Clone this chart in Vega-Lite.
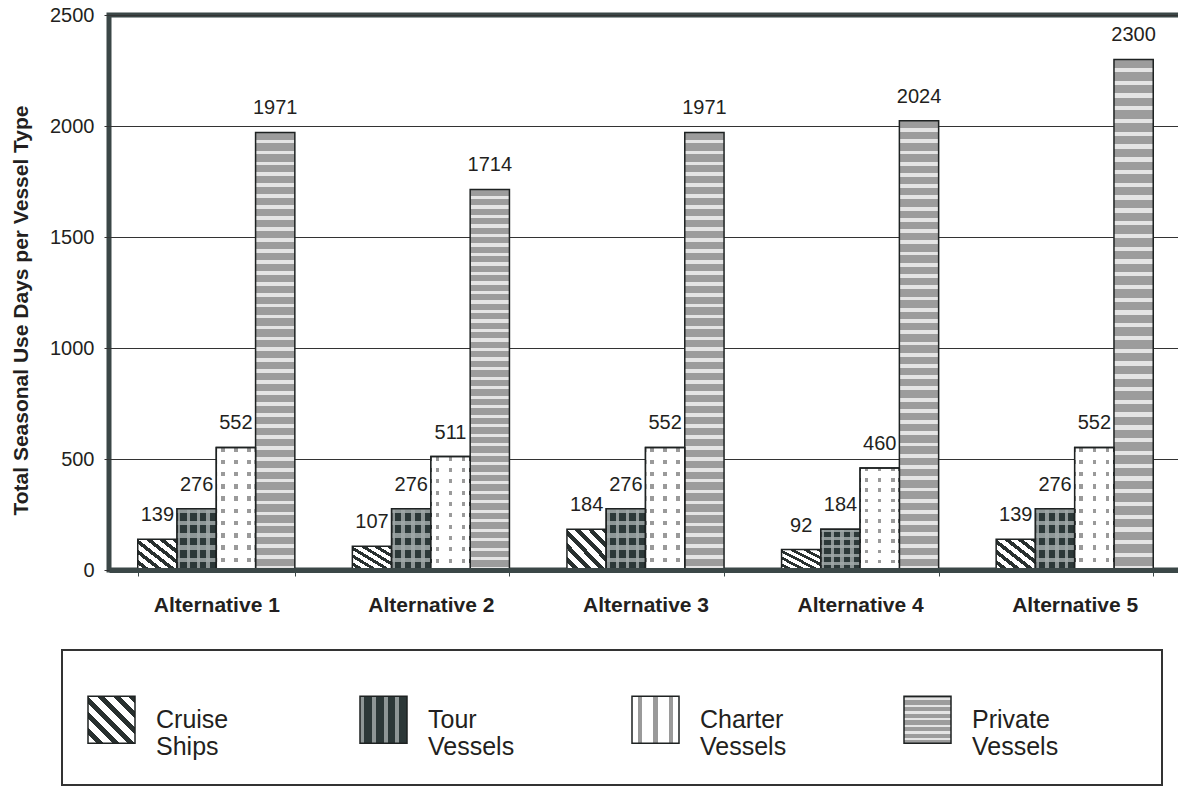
{
  "$schema": "https://vega.github.io/schema/vega-lite/v6.json",
  "width": 1073,
  "height": 555,
  "autosize": {"type": "none"},
  "padding": {"left": 109, "top": 15, "right": 0, "bottom": 222},
  "background": "#ffffff",
  "config": {
    "font": "Liberation Sans, Arial, Helvetica, sans-serif",
    "view": {"stroke": "#3b4747", "strokeWidth": 5},
    "legend": {"strokeWidth": 2},
    "bar": {"stroke": "#1e2222", "strokeWidth": 1.5}
  },
  "data": {
    "values": [
      {"alt": "Alternative 1", "type": "Cruise Ships", "value": 139},
      {"alt": "Alternative 1", "type": "Tour Vessels", "value": 276},
      {"alt": "Alternative 1", "type": "Charter Vessels", "value": 552},
      {"alt": "Alternative 1", "type": "Private Vessels", "value": 1971},
      {"alt": "Alternative 2", "type": "Cruise Ships", "value": 107},
      {"alt": "Alternative 2", "type": "Tour Vessels", "value": 276},
      {"alt": "Alternative 2", "type": "Charter Vessels", "value": 511},
      {"alt": "Alternative 2", "type": "Private Vessels", "value": 1714},
      {"alt": "Alternative 3", "type": "Cruise Ships", "value": 184},
      {"alt": "Alternative 3", "type": "Tour Vessels", "value": 276},
      {"alt": "Alternative 3", "type": "Charter Vessels", "value": 552},
      {"alt": "Alternative 3", "type": "Private Vessels", "value": 1971},
      {"alt": "Alternative 4", "type": "Cruise Ships", "value": 92},
      {"alt": "Alternative 4", "type": "Tour Vessels", "value": 184},
      {"alt": "Alternative 4", "type": "Charter Vessels", "value": 460},
      {"alt": "Alternative 4", "type": "Private Vessels", "value": 2024},
      {"alt": "Alternative 5", "type": "Cruise Ships", "value": 139},
      {"alt": "Alternative 5", "type": "Tour Vessels", "value": 276},
      {"alt": "Alternative 5", "type": "Charter Vessels", "value": 552},
      {"alt": "Alternative 5", "type": "Private Vessels", "value": 2300}
    ]
  },
  "encoding": {
    "x": {
      "field": "alt",
      "type": "nominal",
      "title": null,
      "scale": {"paddingInner": 0.268, "paddingOuter": 0.134},
      "axis": {
        "labelAngle": 0,
        "labelFontSize": 21,
        "labelFontWeight": "bold",
        "labelColor": "#231f20",
        "labelPadding": 18,
        "tickBand": "extent",
        "tickSize": 6,
        "tickColor": "#3b4747",
        "domainColor": "#3b4747",
        "domainWidth": 5,
        "zindex": 1
      }
    },
    "xOffset": {
      "field": "type",
      "type": "nominal",
      "scale": {
        "domain": ["Cruise Ships", "Tour Vessels", "Charter Vessels", "Private Vessels"],
        "paddingInner": 0,
        "paddingOuter": 0
      }
    },
    "y": {
      "field": "value",
      "type": "quantitative",
      "title": "Total Seasonal Use Days per Vessel Type",
      "scale": {"domain": [0, 2500], "nice": false},
      "axis": {
        "values": [0, 500, 1000, 1500, 2000, 2500],
        "format": "d",
        "grid": true,
        "gridColor": "#333333",
        "gridWidth": 1,
        "domain": false,
        "tickSize": 5,
        "tickColor": "#333333",
        "labelFontSize": 20,
        "labelColor": "#231f20",
        "labelPadding": 10,
        "titleFontSize": 21,
        "titleFontWeight": "bold",
        "titleColor": "#231f20",
        "titleX": -82,
        "titleY": 295,
        "titleBaseline": "alphabetic"
      }
    }
  },
  "layer": [
    {
      "mark": {"type": "bar"},
      "encoding": {
        "color": {
          "field": "type",
          "type": "nominal",
          "scale": {
            "domain": ["Cruise Ships", "Tour Vessels", "Charter Vessels", "Private Vessels"],
            "range": [
              {"expr": "{gradient: 'linear', x1: 0, y1: 1, x2: 1, y2: 0, stops: [{offset: 0, color: '#ffffff'}, {offset: 0.0917, color: '#ffffff'}, {offset: 0.0917, color: '#28302f'}, {offset: 0.1667, color: '#28302f'}, {offset: 0.1667, color: '#ffffff'}, {offset: 0.2583, color: '#ffffff'}, {offset: 0.2583, color: '#28302f'}, {offset: 0.3333, color: '#28302f'}, {offset: 0.3333, color: '#ffffff'}, {offset: 0.425, color: '#ffffff'}, {offset: 0.425, color: '#28302f'}, {offset: 0.5, color: '#28302f'}, {offset: 0.5, color: '#ffffff'}, {offset: 0.5917, color: '#ffffff'}, {offset: 0.5917, color: '#28302f'}, {offset: 0.6667, color: '#28302f'}, {offset: 0.6667, color: '#ffffff'}, {offset: 0.7583, color: '#ffffff'}, {offset: 0.7583, color: '#28302f'}, {offset: 0.8333, color: '#28302f'}, {offset: 0.8333, color: '#ffffff'}, {offset: 0.925, color: '#ffffff'}, {offset: 0.925, color: '#28302f'}, {offset: 1, color: '#28302f'}]}"},
              {"expr": "{gradient: 'linear', x1: 0, y1: 0, x2: 1, y2: 0, stops: [{offset: 0, color: '#8e9696'}, {offset: 0.0875, color: '#8e9696'}, {offset: 0.0875, color: '#2c3838'}, {offset: 0.25, color: '#2c3838'}, {offset: 0.25, color: '#8e9696'}, {offset: 0.3375, color: '#8e9696'}, {offset: 0.3375, color: '#2c3838'}, {offset: 0.5, color: '#2c3838'}, {offset: 0.5, color: '#8e9696'}, {offset: 0.5875, color: '#8e9696'}, {offset: 0.5875, color: '#2c3838'}, {offset: 0.75, color: '#2c3838'}, {offset: 0.75, color: '#8e9696'}, {offset: 0.8375, color: '#8e9696'}, {offset: 0.8375, color: '#2c3838'}, {offset: 1, color: '#2c3838'}]}"},
              {"expr": "{gradient: 'linear', x1: 0, y1: 0, x2: 1, y2: 0, stops: [{offset: 0, color: '#ffffff'}, {offset: 0.12, color: '#ffffff'}, {offset: 0.12, color: '#9a9a9a'}, {offset: 0.21, color: '#9a9a9a'}, {offset: 0.21, color: '#ffffff'}, {offset: 0.4533, color: '#ffffff'}, {offset: 0.4533, color: '#9a9a9a'}, {offset: 0.5433, color: '#9a9a9a'}, {offset: 0.5433, color: '#ffffff'}, {offset: 0.7867, color: '#ffffff'}, {offset: 0.7867, color: '#9a9a9a'}, {offset: 0.8767, color: '#9a9a9a'}, {offset: 0.8767, color: '#ffffff'}, {offset: 1, color: '#ffffff'}]}"},
              {"expr": "{gradient: 'linear', x1: 0, y1: 0, x2: 0, y2: 1, stops: [{offset: 0, color: '#9c9c9c'}, {offset: 0.0165, color: '#9c9c9c'}, {offset: 0.0165, color: '#e4e4e4'}, {offset: 0.025, color: '#e4e4e4'}, {offset: 0.025, color: '#9c9c9c'}, {offset: 0.0415, color: '#9c9c9c'}, {offset: 0.0415, color: '#e4e4e4'}, {offset: 0.05, color: '#e4e4e4'}, {offset: 0.05, color: '#9c9c9c'}, {offset: 0.0665, color: '#9c9c9c'}, {offset: 0.0665, color: '#e4e4e4'}, {offset: 0.075, color: '#e4e4e4'}, {offset: 0.075, color: '#9c9c9c'}, {offset: 0.0915, color: '#9c9c9c'}, {offset: 0.0915, color: '#e4e4e4'}, {offset: 0.1, color: '#e4e4e4'}, {offset: 0.1, color: '#9c9c9c'}, {offset: 0.1165, color: '#9c9c9c'}, {offset: 0.1165, color: '#e4e4e4'}, {offset: 0.125, color: '#e4e4e4'}, {offset: 0.125, color: '#9c9c9c'}, {offset: 0.1415, color: '#9c9c9c'}, {offset: 0.1415, color: '#e4e4e4'}, {offset: 0.15, color: '#e4e4e4'}, {offset: 0.15, color: '#9c9c9c'}, {offset: 0.1665, color: '#9c9c9c'}, {offset: 0.1665, color: '#e4e4e4'}, {offset: 0.175, color: '#e4e4e4'}, {offset: 0.175, color: '#9c9c9c'}, {offset: 0.1915, color: '#9c9c9c'}, {offset: 0.1915, color: '#e4e4e4'}, {offset: 0.2, color: '#e4e4e4'}, {offset: 0.2, color: '#9c9c9c'}, {offset: 0.2165, color: '#9c9c9c'}, {offset: 0.2165, color: '#e4e4e4'}, {offset: 0.225, color: '#e4e4e4'}, {offset: 0.225, color: '#9c9c9c'}, {offset: 0.2415, color: '#9c9c9c'}, {offset: 0.2415, color: '#e4e4e4'}, {offset: 0.25, color: '#e4e4e4'}, {offset: 0.25, color: '#9c9c9c'}, {offset: 0.2665, color: '#9c9c9c'}, {offset: 0.2665, color: '#e4e4e4'}, {offset: 0.275, color: '#e4e4e4'}, {offset: 0.275, color: '#9c9c9c'}, {offset: 0.2915, color: '#9c9c9c'}, {offset: 0.2915, color: '#e4e4e4'}, {offset: 0.3, color: '#e4e4e4'}, {offset: 0.3, color: '#9c9c9c'}, {offset: 0.3165, color: '#9c9c9c'}, {offset: 0.3165, color: '#e4e4e4'}, {offset: 0.325, color: '#e4e4e4'}, {offset: 0.325, color: '#9c9c9c'}, {offset: 0.3415, color: '#9c9c9c'}, {offset: 0.3415, color: '#e4e4e4'}, {offset: 0.35, color: '#e4e4e4'}, {offset: 0.35, color: '#9c9c9c'}, {offset: 0.3665, color: '#9c9c9c'}, {offset: 0.3665, color: '#e4e4e4'}, {offset: 0.375, color: '#e4e4e4'}, {offset: 0.375, color: '#9c9c9c'}, {offset: 0.3915, color: '#9c9c9c'}, {offset: 0.3915, color: '#e4e4e4'}, {offset: 0.4, color: '#e4e4e4'}, {offset: 0.4, color: '#9c9c9c'}, {offset: 0.4165, color: '#9c9c9c'}, {offset: 0.4165, color: '#e4e4e4'}, {offset: 0.425, color: '#e4e4e4'}, {offset: 0.425, color: '#9c9c9c'}, {offset: 0.4415, color: '#9c9c9c'}, {offset: 0.4415, color: '#e4e4e4'}, {offset: 0.45, color: '#e4e4e4'}, {offset: 0.45, color: '#9c9c9c'}, {offset: 0.4665, color: '#9c9c9c'}, {offset: 0.4665, color: '#e4e4e4'}, {offset: 0.475, color: '#e4e4e4'}, {offset: 0.475, color: '#9c9c9c'}, {offset: 0.4915, color: '#9c9c9c'}, {offset: 0.4915, color: '#e4e4e4'}, {offset: 0.5, color: '#e4e4e4'}, {offset: 0.5, color: '#9c9c9c'}, {offset: 0.5165, color: '#9c9c9c'}, {offset: 0.5165, color: '#e4e4e4'}, {offset: 0.525, color: '#e4e4e4'}, {offset: 0.525, color: '#9c9c9c'}, {offset: 0.5415, color: '#9c9c9c'}, {offset: 0.5415, color: '#e4e4e4'}, {offset: 0.55, color: '#e4e4e4'}, {offset: 0.55, color: '#9c9c9c'}, {offset: 0.5665, color: '#9c9c9c'}, {offset: 0.5665, color: '#e4e4e4'}, {offset: 0.575, color: '#e4e4e4'}, {offset: 0.575, color: '#9c9c9c'}, {offset: 0.5915, color: '#9c9c9c'}, {offset: 0.5915, color: '#e4e4e4'}, {offset: 0.6, color: '#e4e4e4'}, {offset: 0.6, color: '#9c9c9c'}, {offset: 0.6165, color: '#9c9c9c'}, {offset: 0.6165, color: '#e4e4e4'}, {offset: 0.625, color: '#e4e4e4'}, {offset: 0.625, color: '#9c9c9c'}, {offset: 0.6415, color: '#9c9c9c'}, {offset: 0.6415, color: '#e4e4e4'}, {offset: 0.65, color: '#e4e4e4'}, {offset: 0.65, color: '#9c9c9c'}, {offset: 0.6665, color: '#9c9c9c'}, {offset: 0.6665, color: '#e4e4e4'}, {offset: 0.675, color: '#e4e4e4'}, {offset: 0.675, color: '#9c9c9c'}, {offset: 0.6915, color: '#9c9c9c'}, {offset: 0.6915, color: '#e4e4e4'}, {offset: 0.7, color: '#e4e4e4'}, {offset: 0.7, color: '#9c9c9c'}, {offset: 0.7165, color: '#9c9c9c'}, {offset: 0.7165, color: '#e4e4e4'}, {offset: 0.725, color: '#e4e4e4'}, {offset: 0.725, color: '#9c9c9c'}, {offset: 0.7415, color: '#9c9c9c'}, {offset: 0.7415, color: '#e4e4e4'}, {offset: 0.75, color: '#e4e4e4'}, {offset: 0.75, color: '#9c9c9c'}, {offset: 0.7665, color: '#9c9c9c'}, {offset: 0.7665, color: '#e4e4e4'}, {offset: 0.775, color: '#e4e4e4'}, {offset: 0.775, color: '#9c9c9c'}, {offset: 0.7915, color: '#9c9c9c'}, {offset: 0.7915, color: '#e4e4e4'}, {offset: 0.8, color: '#e4e4e4'}, {offset: 0.8, color: '#9c9c9c'}, {offset: 0.8165, color: '#9c9c9c'}, {offset: 0.8165, color: '#e4e4e4'}, {offset: 0.825, color: '#e4e4e4'}, {offset: 0.825, color: '#9c9c9c'}, {offset: 0.8415, color: '#9c9c9c'}, {offset: 0.8415, color: '#e4e4e4'}, {offset: 0.85, color: '#e4e4e4'}, {offset: 0.85, color: '#9c9c9c'}, {offset: 0.8665, color: '#9c9c9c'}, {offset: 0.8665, color: '#e4e4e4'}, {offset: 0.875, color: '#e4e4e4'}, {offset: 0.875, color: '#9c9c9c'}, {offset: 0.8915, color: '#9c9c9c'}, {offset: 0.8915, color: '#e4e4e4'}, {offset: 0.9, color: '#e4e4e4'}, {offset: 0.9, color: '#9c9c9c'}, {offset: 0.9165, color: '#9c9c9c'}, {offset: 0.9165, color: '#e4e4e4'}, {offset: 0.925, color: '#e4e4e4'}, {offset: 0.925, color: '#9c9c9c'}, {offset: 0.9415, color: '#9c9c9c'}, {offset: 0.9415, color: '#e4e4e4'}, {offset: 0.95, color: '#e4e4e4'}, {offset: 0.95, color: '#9c9c9c'}, {offset: 0.9665, color: '#9c9c9c'}, {offset: 0.9665, color: '#e4e4e4'}, {offset: 0.975, color: '#e4e4e4'}, {offset: 0.975, color: '#9c9c9c'}, {offset: 0.9915, color: '#9c9c9c'}, {offset: 0.9915, color: '#e4e4e4'}, {offset: 1, color: '#e4e4e4'}]}"}
            ]
          },
          "legend": {
            "orient": "none",
            "legendX": -47,
            "legendY": 635,
            "direction": "horizontal",
            "columns": 4,
            "gridAlign": "all",
            "columnPadding": 114,
            "padding": 25,
            "strokeColor": "#333333",
            "title": "\u2800\u2800\u2800\u2800\u2800\u2800\u2800\u2800\u2800\u2800\u2800\u2800\u2800\u2800\u2800\u2800\u2800\u2800\u2800\u2800\u2800\u2800\u2800\u2800\u2800\u2800\u2800\u2800\u2800\u2800\u2800\u2800\u2800\u2800\u2800\u2800\u2800\u2800\u2800\u2800\u2800\u2800\u2800\u2800\u2800\u2800\u2800\u2800\u2800\u2800\u2800\u2800\u2800\u2800\u2800\u2800\u2800\u2800\u2800\u2800\u2800\u2800\u2800\u2800\u2800\u2800\u2800\u2800\u2800\u2800",
            "titleFontSize": 20,
            "titlePadding": 0,
            "titleLimit": 1400,
            "symbolType": "square",
            "symbolSize": 2209,
            "symbolStrokeColor": "#1e2222",
            "symbolStrokeWidth": 1.5,
            "labelFontSize": 25,
            "labelColor": "#231f20",
            "labelOffset": 20,
            "labelLimit": 300,
            "labelExpr": "split(datum.label, ' ')",
            "encode": {
              "labels": {"lineHeight": {"value": 29}}
            }
          }
        }
      }
    },
    {
      "transform": [{"filter": "datum.type === 'Tour Vessels'"}],
      "mark": {
        "type": "bar",
        "fill": {"gradient": "linear", "x1": 0, "y1": 0, "x2": 0, "y2": 1, "stops": [
          {"offset": 0, "color": "rgba(160,168,168,0.85)"}, {"offset": 0.07, "color": "rgba(160,168,168,0.85)"}, {"offset": 0.07, "color": "rgba(255,255,255,0)"}, {"offset": 0.2, "color": "rgba(255,255,255,0)"},
          {"offset": 0.2, "color": "rgba(160,168,168,0.85)"}, {"offset": 0.27, "color": "rgba(160,168,168,0.85)"}, {"offset": 0.27, "color": "rgba(255,255,255,0)"}, {"offset": 0.4, "color": "rgba(255,255,255,0)"},
          {"offset": 0.4, "color": "rgba(160,168,168,0.85)"}, {"offset": 0.47, "color": "rgba(160,168,168,0.85)"}, {"offset": 0.47, "color": "rgba(255,255,255,0)"}, {"offset": 0.6, "color": "rgba(255,255,255,0)"},
          {"offset": 0.6, "color": "rgba(160,168,168,0.85)"}, {"offset": 0.67, "color": "rgba(160,168,168,0.85)"}, {"offset": 0.67, "color": "rgba(255,255,255,0)"}, {"offset": 0.8, "color": "rgba(255,255,255,0)"},
          {"offset": 0.8, "color": "rgba(160,168,168,0.85)"}, {"offset": 0.87, "color": "rgba(160,168,168,0.85)"}, {"offset": 0.87, "color": "rgba(255,255,255,0)"}, {"offset": 1, "color": "rgba(255,255,255,0)"}
        ]}
      }
    },
    {
      "transform": [{"filter": "datum.type === 'Charter Vessels'"}],
      "mark": {
        "type": "bar",
        "fill": {"gradient": "linear", "x1": 0, "y1": 0, "x2": 0, "y2": 1, "stops": [
          {"offset": 0, "color": "rgba(255,255,255,0)"}, {"offset": 0.035, "color": "rgba(255,255,255,0)"}, {"offset": 0.035, "color": "#ffffff"}, {"offset": 0.1, "color": "#ffffff"},
          {"offset": 0.1, "color": "rgba(255,255,255,0)"}, {"offset": 0.135, "color": "rgba(255,255,255,0)"}, {"offset": 0.135, "color": "#ffffff"}, {"offset": 0.2, "color": "#ffffff"},
          {"offset": 0.2, "color": "rgba(255,255,255,0)"}, {"offset": 0.235, "color": "rgba(255,255,255,0)"}, {"offset": 0.235, "color": "#ffffff"}, {"offset": 0.3, "color": "#ffffff"},
          {"offset": 0.3, "color": "rgba(255,255,255,0)"}, {"offset": 0.335, "color": "rgba(255,255,255,0)"}, {"offset": 0.335, "color": "#ffffff"}, {"offset": 0.4, "color": "#ffffff"},
          {"offset": 0.4, "color": "rgba(255,255,255,0)"}, {"offset": 0.435, "color": "rgba(255,255,255,0)"}, {"offset": 0.435, "color": "#ffffff"}, {"offset": 0.5, "color": "#ffffff"},
          {"offset": 0.5, "color": "rgba(255,255,255,0)"}, {"offset": 0.535, "color": "rgba(255,255,255,0)"}, {"offset": 0.535, "color": "#ffffff"}, {"offset": 0.6, "color": "#ffffff"},
          {"offset": 0.6, "color": "rgba(255,255,255,0)"}, {"offset": 0.635, "color": "rgba(255,255,255,0)"}, {"offset": 0.635, "color": "#ffffff"}, {"offset": 0.7, "color": "#ffffff"},
          {"offset": 0.7, "color": "rgba(255,255,255,0)"}, {"offset": 0.735, "color": "rgba(255,255,255,0)"}, {"offset": 0.735, "color": "#ffffff"}, {"offset": 0.8, "color": "#ffffff"},
          {"offset": 0.8, "color": "rgba(255,255,255,0)"}, {"offset": 0.835, "color": "rgba(255,255,255,0)"}, {"offset": 0.835, "color": "#ffffff"}, {"offset": 0.9, "color": "#ffffff"},
          {"offset": 0.9, "color": "rgba(255,255,255,0)"}, {"offset": 0.935, "color": "rgba(255,255,255,0)"}, {"offset": 0.935, "color": "#ffffff"}, {"offset": 1, "color": "#ffffff"}
        ]}
      }
    },
    {
      "mark": {
        "type": "text",
        "fontSize": 20,
        "color": "#231f20",
        "align": "center",
        "baseline": "alphabetic",
        "dy": -18
      },
      "encoding": {
        "text": {"field": "value", "type": "quantitative"}
      }
    }
  ]
}
